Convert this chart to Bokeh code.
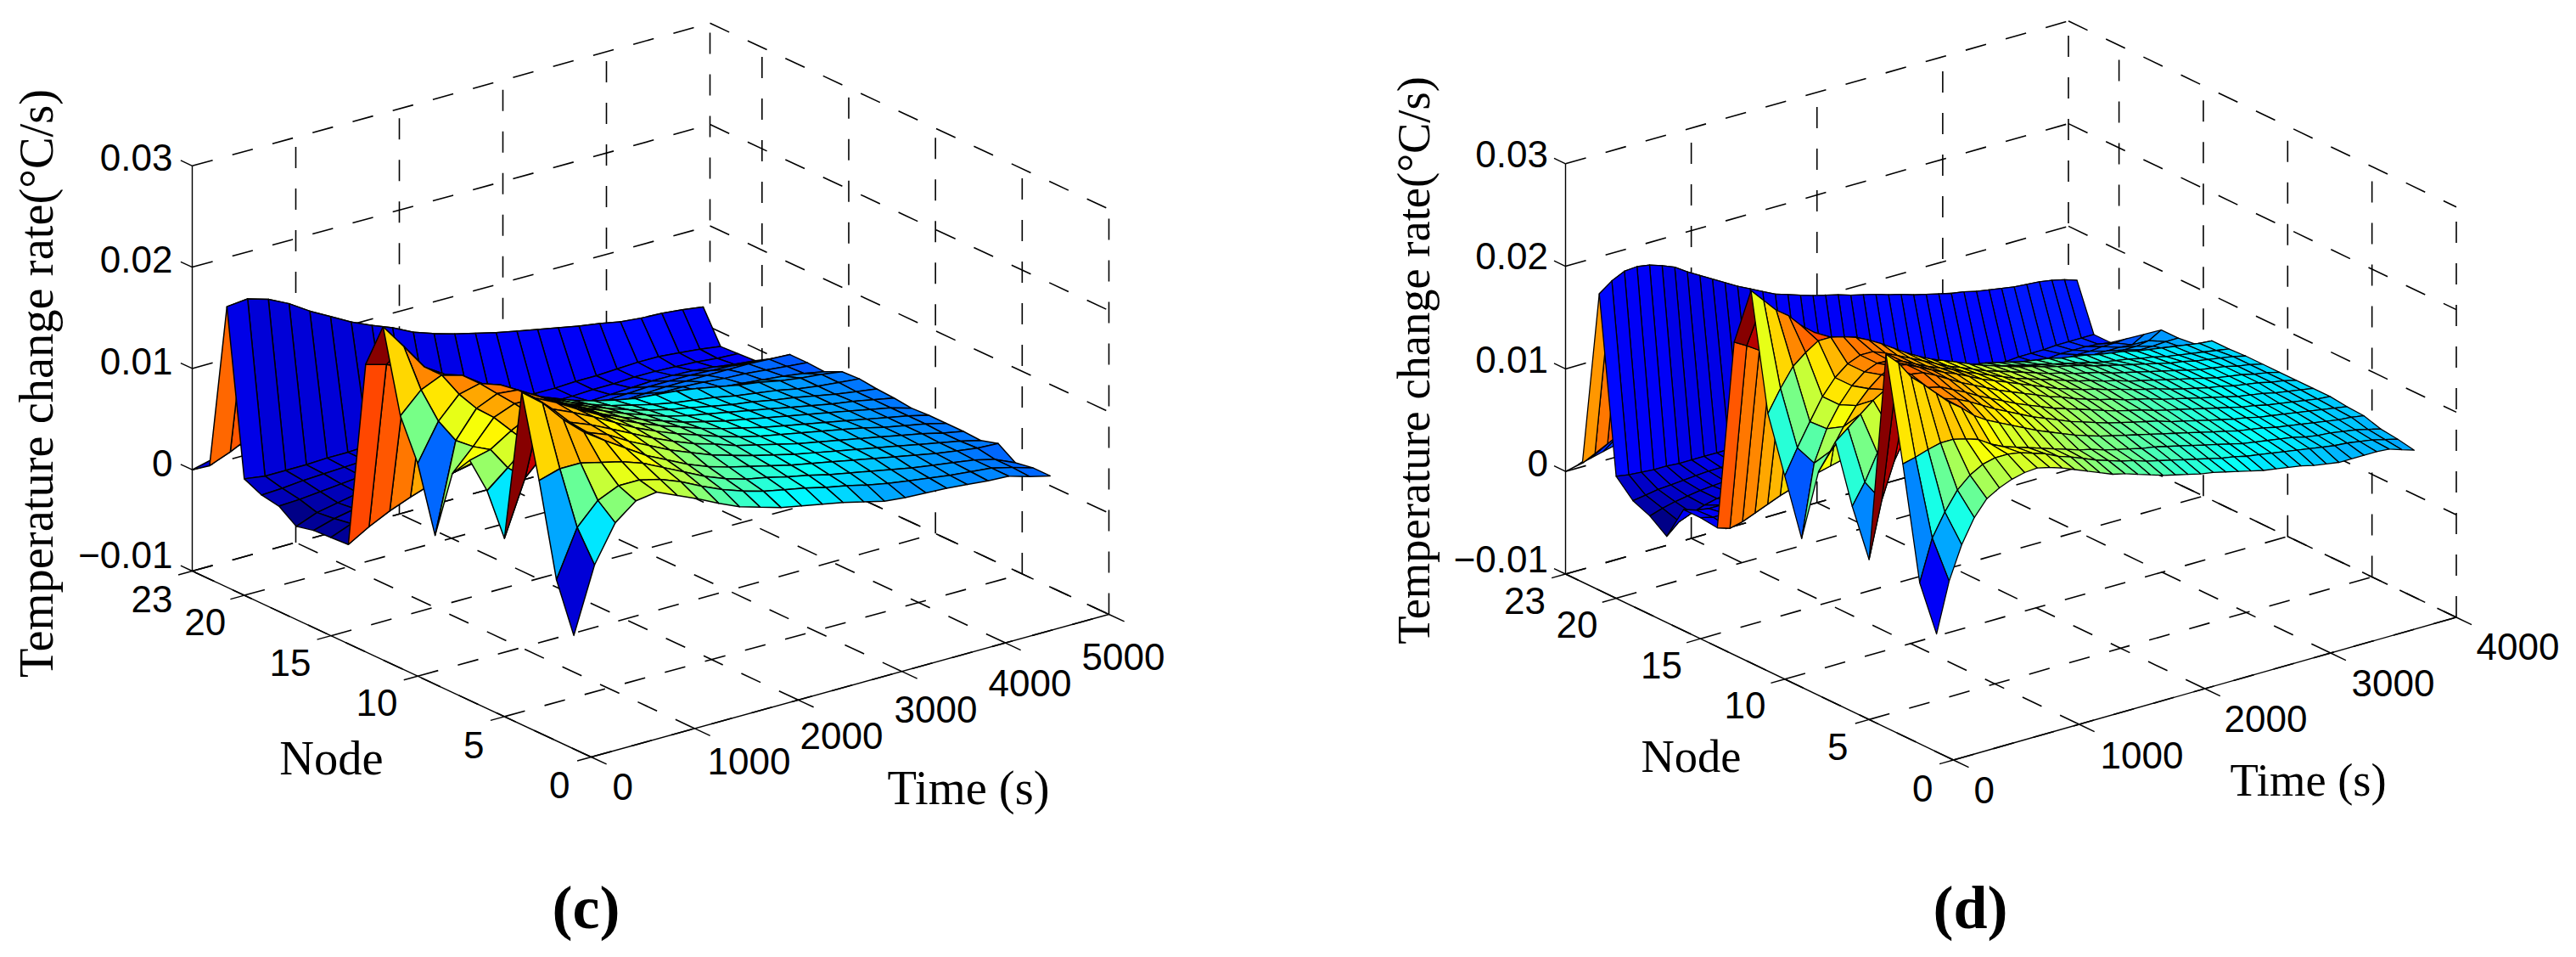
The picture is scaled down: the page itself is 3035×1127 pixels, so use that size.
import math
from bokeh.plotting import figure
from bokeh.embed import file_html
from bokeh.resources import INLINE
from bokeh.core.properties import value

NODES = list(range(1, 24))
NODE_TICKS = [0, 5, 10, 15, 20, 23]
Z_TICKS = [-0.01, 0, 0.01, 0.02, 0.03]
Z_TICK_LABELS = ["\u22120.01", "0", "0.01", "0.02", "0.03"]
TIME_C = list(range(0, 4601, 200))
TIME_D = list(range(0, 3801, 100))
TIME_TICKS_C = [0, 1000, 2000, 3000, 4000, 5000]
TIME_TICKS_D = [0, 1000, 2000, 3000, 4000]

# temperature change rate, unit 1e-4 degC/s; one row per time, one column per node 1..23
Z_C = [
[12,59,149,228,76,115,137,116,47,110,149,229,184,-2,-3,-4,-8,4,7,15,177,12,0],
[76,105,155,212,130,132,142,137,135,146,169,204,178,10,5,2,0,5,8,12,179,20,5],
[112,126,155,190,150,150,155,160,161,167,178,178,170,20,12,6,4,7,10,12,173,30,10],
[128,135,150,172,160,160,165,168,170,172,172,165,160,28,16,10,8,9,11,12,163,38,15],
[131,135,145,158,158,160,165,168,168,165,158,152,150,35,20,14,11,11,12,13,150,42,20],
[122,130,138,145,150,152,156,158,156,152,145,142,138,40,24,17,13,12,13,13,139,44,24],
[113,122,128,132,138,142,146,146,144,140,135,132,128,45,28,20,15,13,14,14,128,46,28],
[103,112,118,122,128,132,135,135,133,130,125,122,118,48,32,23,17,14,14,15,119,47,30],
[94,103,108,112,118,122,124,124,122,120,116,113,108,50,36,26,19,15,15,15,111,46,30],
[88,96,100,104,110,113,115,115,113,111,108,104,100,52,40,29,21,16,15,16,101,45,30],
[82,90,94,98,102,105,107,107,105,103,100,96,92,54,43,32,23,18,16,17,94,44,30],
[78,86,90,93,96,99,100,100,98,96,93,89,86,54,45,34,25,19,17,18,88,43,30],
[74,82,85,88,90,92,93,93,91,89,87,84,81,54,47,36,26,20,18,19,83,42,30],
[70,77,81,83,85,87,87,87,86,84,82,79,77,54,48,38,28,21,19,20,78,41,29],
[65,73,76,79,80,82,82,82,81,80,78,75,75,54,49,39,30,22,20,20,74,40,29],
[60,68,72,75,76,77,78,77,77,76,74,72,73,54,50,40,32,23,20,20,70,39,28],
[58,64,68,71,72,73,74,73,73,72,70,69,70,54,50,41,33,24,21,21,66,38,28],
[57,61,64,67,68,69,70,69,69,68,67,65,66,53,50,42,34,25,21,21,62,37,27],
[56,58,60,63,64,65,66,65,65,64,63,62,62,52,49,42,34,26,22,22,59,36,27],
[54,55,57,59,60,61,62,61,61,60,60,59,59,50,47,42,34,26,22,23,55,35,26],
[52,53,54,55,56,57,57,57,57,56,56,55,55,48,46,42,33,25,21,23,53,34,26],
[51,51,51,52,52,53,53,53,53,53,52,52,52,46,44,42,32,23,20,21,52,33,25],
[45,46,46,49,48,48,49,49,49,49,49,50,50,43,42,41,30,20,18,19,50,32,25],
[40,40,37,48,43,44,44,44,43,45,46,48,47,39,40,40,28,18,17,16,47,31,24],
]

Z_D = [
[15,57,165,264,56,100,155,118,45,98,151,263,205,16,18,18,-16,-4,3,19,189,16,0],
[63,97,168,252,110,120,165,135,115,122,172,250,198,12,15,14,-5,0,5,17,198,22,3],
[95,119,172,235,145,145,175,155,145,144,190,237,190,15,15,12,0,3,7,16,204,28,6],
[118,137,175,224,168,165,185,172,165,165,200,228,184,20,17,12,4,5,8,15,205,34,9],
[133,148,175,212,182,180,192,185,180,180,208,215,178,25,20,13,7,7,9,15,203,38,12],
[140,155,172,200,190,190,198,195,190,190,208,205,172,30,22,15,9,8,10,14,199,42,15],
[145,158,168,191,192,195,200,200,195,195,205,197,168,34,25,17,11,9,11,14,194,45,18],
[148,158,160,180,188,192,198,198,194,195,201,190,162,38,28,19,13,10,11,14,186,47,20],
[149,156,154,172,182,186,192,192,190,190,195,186,155,42,30,21,14,11,12,14,179,48,22],
[146,152,150,166,175,180,185,186,184,184,188,178,150,45,33,23,16,12,12,14,172,49,24],
[142,148,146,160,168,173,178,180,178,178,180,170,145,48,35,25,17,13,13,14,165,50,25],
[137,142,142,154,162,167,172,175,173,172,172,162,140,50,37,27,18,14,14,14,158,50,26],
[132,138,138,148,156,161,166,169,168,166,165,156,136,52,39,29,20,15,15,15,152,50,27],
[127,133,134,143,150,155,160,163,162,160,159,150,132,54,41,30,21,16,15,15,146,50,28],
[122,128,130,138,145,150,155,158,157,155,154,145,128,55,43,32,22,17,16,15,140,50,28],
[119,124,127,133,140,145,150,153,152,150,149,140,125,57,44,33,24,18,16,16,136,50,29],
[115,120,123,129,135,140,145,148,147,145,144,135,122,58,46,35,25,19,17,16,132,50,29],
[111,117,120,125,131,136,140,143,142,141,139,131,120,59,47,36,26,20,18,17,128,50,30],
[107,113,117,122,127,132,136,138,138,137,135,127,119,60,48,38,28,21,18,17,125,50,30],
[104,110,114,119,123,128,131,133,134,133,131,123,117,61,49,39,29,22,19,18,122,49,30],
[101,107,112,116,120,124,127,129,130,129,127,120,115,62,50,40,30,23,20,18,118,49,30],
[98,104,109,113,117,120,123,125,126,125,124,117,112,63,51,41,31,24,21,19,115,49,30],
[96,101,106,110,114,117,120,122,122,122,120,114,109,64,52,42,33,25,21,19,112,48,30],
[93,98,103,107,111,114,116,118,119,118,117,111,106,64,53,43,34,26,22,20,108,48,30],
[90,95,100,104,107,110,113,115,115,115,114,108,104,65,54,44,35,27,23,20,105,48,30],
[87,93,97,101,104,107,110,111,112,112,111,105,102,65,55,45,36,28,23,21,101,47,30],
[84,90,94,98,101,104,106,108,108,108,107,102,99,66,55,46,37,29,24,21,98,47,30],
[82,88,91,95,98,101,103,105,105,105,104,99,97,66,56,47,38,30,24,22,95,46,30],
[80,86,89,92,95,98,100,101,102,102,101,96,95,66,57,47,39,31,25,22,92,46,29],
[78,84,87,90,92,95,97,98,99,99,98,94,92,66,57,48,40,31,25,22,90,45,29],
[75,82,85,88,90,92,94,95,96,96,95,92,90,66,58,49,40,32,26,23,87,45,29],
[73,80,83,85,87,89,91,92,93,93,92,89,88,66,58,49,41,33,26,23,85,44,29],
[71,78,80,83,85,87,88,90,90,90,89,87,85,66,59,50,42,34,27,24,83,44,28],
[71,76,78,81,83,84,86,87,87,87,87,84,83,65,59,51,42,34,27,24,81,43,28],
[71,75,77,79,81,82,84,85,85,85,84,82,81,65,60,51,43,35,28,24,80,43,28],
[71,73,75,77,79,80,81,83,83,83,82,80,79,64,60,52,43,35,28,25,79,42,28],
[70,71,73,75,77,78,79,80,80,80,80,78,77,64,60,52,43,36,28,25,77,42,27],
[66,68,70,74,75,76,77,78,78,78,78,76,75,63,61,54,42,36,27,25,74,41,27],
[62,65,67,72,73,75,75,75,75,75,75,74,74,63,61,61,49,37,25,25,70,41,27],
]

assert len(Z_C) == len(TIME_C) and len(Z_D) == len(TIME_D)
assert all(len(r) == 23 for r in Z_C + Z_D)


def jet(f):
    idx = min(63, int(f * 64))
    v = (idx + 0.5) / 64
    def ch(c):
        return max(0.0, min(1.0, 1.5 - abs(4 * v - c)))
    return "#%02x%02x%02x" % (int(ch(3) * 255), int(ch(2) * 255), int(ch(1) * 255))


p = figure(width=3019, height=1111, x_range=(0, 3019), y_range=(1111, 0),
           x_axis_type=None, y_axis_type=None, toolbar_location=None,
           output_backend="svg", min_border=0, outline_line_color=None,
           background_fill_color="white", border_fill_color="white")
p.grid.visible = False


def texts(xs, ys, labels, font, size, align, style="normal", angle=0.0):
    p.text(x=xs, y=ys, text=labels, text_font=value(font), text_font_size=f"{size}px",
           text_align=align, text_baseline="middle", text_font_style=style,
           text_color="#000000", angle=angle)


def panel(times, table, time_ticks, geom):
    bx, by = geom["B"]
    ax, ay = geom["A"]
    cx, cy = geom["C"]
    zs = geom["zs"]
    tmax = time_ticks[-1]

    def prj(n, t, z):
        return (bx + n / 23 * (ax - bx) + t / tmax * (cx - bx),
                by + n / 23 * (ay - by) + t / tmax * (cy - by) - (z + 0.01) / 0.01 * zs)

    dx, dy = [], []
    def seg(a, b):
        pa, pb = prj(*a), prj(*b)
        dx.append([pa[0], pb[0]])
        dy.append([pa[1], pb[1]])
    for z in Z_TICKS:
        seg((23, 0, z), (23, tmax, z))
        seg((23, tmax, z), (0, tmax, z))
    for t in time_ticks:
        if t > 0:
            seg((23, t, -0.01), (23, t, 0.03))
        seg((0, t, -0.01), (23, t, -0.01))
    for n in NODE_TICKS:
        if n < 23:
            seg((n, tmax, -0.01), (n, tmax, 0.03))
        seg((n, 0, -0.01), (n, tmax, -0.01))
    p.multi_line(dx, dy, line_color="black", line_width=1.6, line_dash="25 24")

    sx, sy = [], []
    def sol(a, b):
        sx.append([a[0], b[0]])
        sy.append([a[1], b[1]])
    sol(prj(23, 0, -0.01), prj(23, 0, 0.03))
    sol(prj(23, 0, -0.01), prj(0, 0, -0.01))
    sol(prj(0, 0, -0.01), prj(0, tmax, -0.01))
    ndx, ndy = (ax - bx) / 23, (ay - by) / 23
    nl = math.hypot(ndx, ndy)
    tdx, tdy = (cx - bx) / tmax, (cy - by) / tmax
    tl = math.hypot(tdx, tdy)
    for z in Z_TICKS:
        a = prj(23, 0, z)
        sol(a, (a[0] + ndx / nl * 15, a[1] + ndy / nl * 15))
    for n in NODE_TICKS:
        a = prj(n, 0, -0.01)
        sol(a, (a[0] - tdx / tl * 17, a[1] - tdy / tl * 17))
    for t in time_ticks:
        a = prj(0, t, -0.01)
        sol(a, (a[0] - ndx / nl * 20, a[1] - ndy / nl * 20))
    p.multi_line(sx, sy, line_color="black", line_width=1.4)

    flat = [v for r in table for v in r]
    lo, hi = min(flat), max(flat)
    xs, ys, cols = [], [], []
    for i in range(len(NODES) - 2, -1, -1):
        for j in range(len(times) - 2, -1, -1):
            corners = [(i, j), (i + 1, j), (i + 1, j + 1), (i, j + 1)]
            pts = [prj(NODES[a], times[b], table[b][a] * 1e-4) for a, b in corners]
            xs.append([q[0] for q in pts])
            ys.append([q[1] for q in pts])
            cols.append(jet((table[j][i] - lo) / (hi - lo)))
    p.patches(xs, ys, fill_color=cols, line_color="black", line_width=geom["lw"], line_join="round")

    tf = "Liberation Sans"
    texts(geom["z_x"], geom["z_y"], Z_TICK_LABELS, tf, 44, "right")
    texts(geom["n_x"], geom["n_y"], [str(n) for n in NODE_TICKS], tf, 44, "right")
    texts(geom["t_x"], geom["t_y"], [str(t) for t in time_ticks], tf, 44, "left")
    sf = "Liberation Serif"
    fs = geom["fs"]
    texts([geom["node"][0]], [geom["node"][1]], ["Node"], sf, fs, "center")
    texts([geom["time"][0]], [geom["time"][1]], ["Time (s)"], sf, fs, "left")
    texts([geom["ztitle"][0]], [geom["ztitle"][1]], ["Temperature change rate(\u00b0C/s)"], sf, fs,
          "center", angle=math.pi / 2)
    texts([geom["cap"][0]], [geom["cap"][1]], [geom["cap"][2]], sf, geom["cap"][3], "center", "bold")


panel(TIME_C, Z_C, TIME_TICKS_C, dict(
    B=(696, 891), A=(226, 672), C=(1306, 723), zs=119.3, lw=1.5, fs=56.5,
    z_x=[203] * 5, z_y=[653, 545, 425, 305, 185],
    n_x=[671, 570, 468, 366, 265.6, 203], n_y=[924, 877, 827, 780, 732, 705],
    t_x=[721, 833, 942, 1053, 1164, 1274], t_y=[926, 896, 866, 835, 804, 772.5],
    node=(390, 892), time=(1045, 927), ztitle=(42, 451), cap=(690, 1068, "(c)", 72)))

panel(TIME_D, Z_D, TIME_TICKS_D, dict(
    B=(2301, 894.5), A=(1844, 675.5), C=(2893.5, 726.5), zs=120.8, lw=1.3, fs=54.5,
    z_x=[1823.5] * 5, z_y=[658, 545, 423, 301, 181],
    n_x=[2277, 2177, 2080, 1981.5, 1882, 1820.5], n_y=[927.5, 879, 830, 783, 735, 706.6],
    t_x=[2325, 2474, 2620, 2770, 2917], t_y=[930, 889, 845.5, 803.5, 761],
    node=(1992, 890), time=(2627, 918), ztitle=(1665, 424), cap=(2321, 1068, "(d)", 72)))

open("out.html", "w").write(file_html(p, INLINE))
